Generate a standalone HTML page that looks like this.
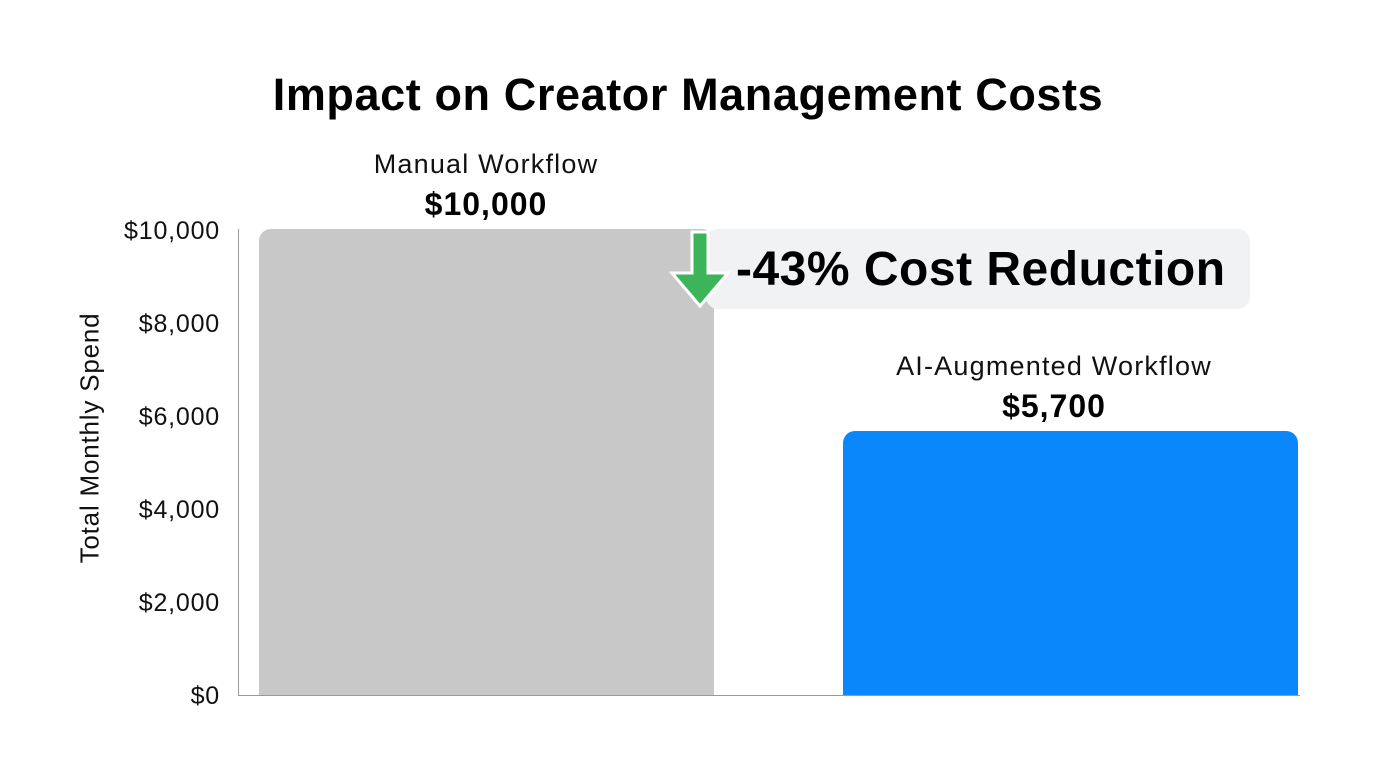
<!DOCTYPE html>
<html><head><style>
body{margin:0;width:1376px;height:768px;background:#fff;overflow:hidden;font-family:"Liberation Sans",sans-serif;position:relative}
.a{position:absolute}
.t{font-size:25px;letter-spacing:0.8px;color:#111;text-align:right;width:150px;left:70px;line-height:30px}
</style></head><body>
<div class="a" style="left:0;width:1376px;top:68px;text-align:center;font-size:45px;letter-spacing:0.6px;font-weight:bold;color:#000;line-height:54px">Impact on Creator Management Costs</div>
<div class="a t" style="top:216px">$10,000</div>
<div class="a t" style="top:309px">$8,000</div>
<div class="a t" style="top:402px">$6,000</div>
<div class="a t" style="top:495px">$4,000</div>
<div class="a t" style="top:588px">$2,000</div>
<div class="a t" style="top:681px">$0</div>
<div class="a" style="left:90px;top:438px;width:0;height:0"><div style="position:absolute;transform:translate(-50%,-50%) rotate(-90deg);white-space:nowrap;font-size:26px;letter-spacing:0.8px;color:#111">Total Monthly Spend</div></div>
<div class="a" style="left:238px;top:229px;width:1px;height:467px;background:#999"></div>
<div class="a" style="left:238px;top:695px;width:1062px;height:1px;background:#999"></div>
<div class="a" style="left:259px;top:229px;width:455px;height:466px;background:#c8c8c8;border-radius:12px 12px 0 0"></div>
<div class="a" style="left:843px;top:431px;width:455px;height:264px;background:#0a88fb;border-radius:12px 12px 0 0"></div>
<div class="a" style="left:236px;width:500px;top:148px;text-align:center;font-size:27px;letter-spacing:1.2px;color:#111;line-height:32px">Manual Workflow</div>
<div class="a" style="left:236px;width:500px;top:185px;text-align:center;font-size:32px;letter-spacing:1px;font-weight:bold;color:#000;line-height:38px">$10,000</div>
<div class="a" style="left:804px;width:500px;top:350px;text-align:center;font-size:27px;letter-spacing:1.2px;color:#111;line-height:32px">AI-Augmented Workflow</div>
<div class="a" style="left:804px;width:500px;top:387px;text-align:center;font-size:32px;letter-spacing:1px;font-weight:bold;color:#000;line-height:38px">$5,700</div>
<div class="a" style="left:706px;top:229px;width:544px;height:80px;background:#f1f2f4;border-radius:12px"></div>
<div class="a" style="left:736px;top:241px;font-size:48px;letter-spacing:0.5px;font-weight:bold;color:#000;white-space:nowrap;line-height:58px">-43% Cost Reduction</div>
<svg class="a" style="left:665px;top:228px" width="70" height="85"><path d="M27 4H43V45H63L35 78L7 45H27Z" fill="#3cb55a" stroke="#fff" stroke-width="3" stroke-linejoin="miter"/></svg>
</body></html>
